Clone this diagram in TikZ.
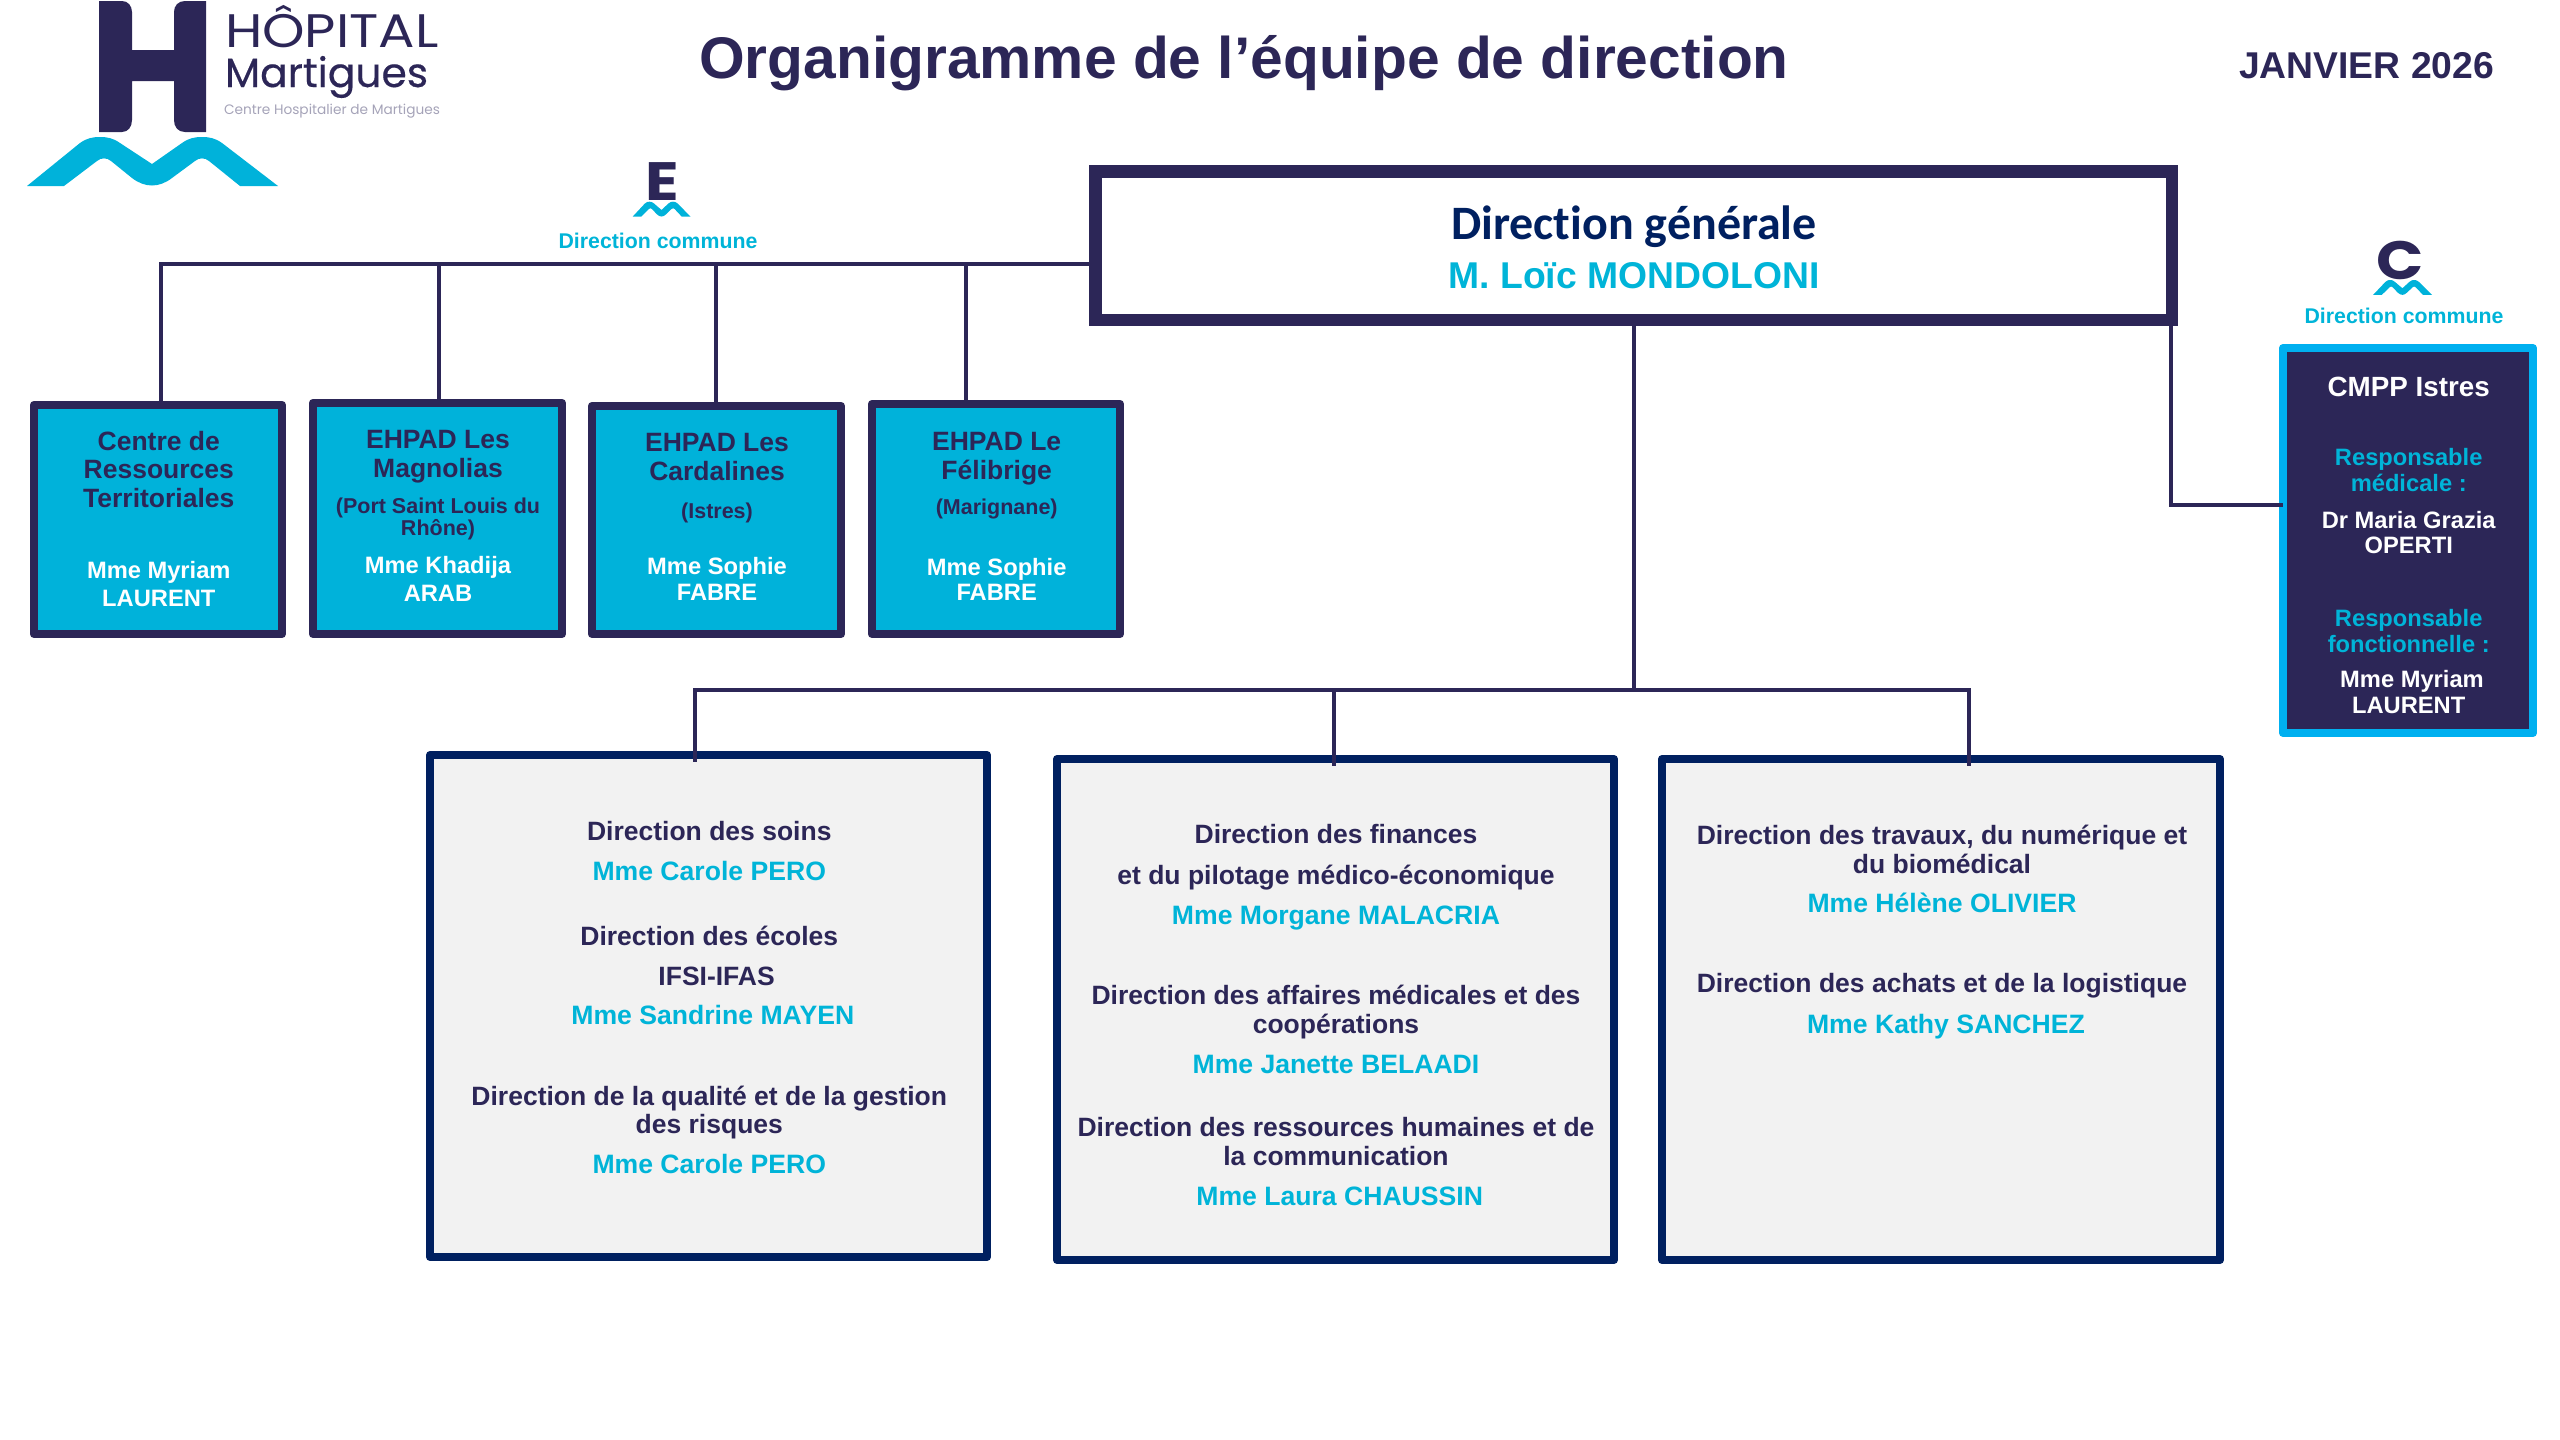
\documentclass[tikz,border=0pt]{standalone}
\usepackage{fontspec}
\setmainfont{Liberation Sans}
\newfontfamily\popfont{Poppins}
\newfontfamily\popwide[FakeStretch=1.15]{Poppins}
\newfontfamily\popmid[FakeBold=0.4]{Poppins}
\newfontfamily\carfont[Ligatures=NoCommon]{Carlito}
\definecolor{navy}{HTML}{2C2657}
\definecolor{deepblue}{HTML}{002060}
\definecolor{cyanfill}{HTML}{00B2DA}
\definecolor{cyantxt}{HTML}{00B4D8}
\definecolor{cyanedge}{HTML}{00B0F0}
\definecolor{panel}{HTML}{F2F2F2}
\definecolor{logogrey}{HTML}{A5A3B8}
\newcommand\fsz[1]{\fontsize{#1}{#1}\selectfont}
\tikzset{
  x=1pt,y=-1pt,
  basebox/.style={draw,rectangle,inner sep=0pt,outer sep=0pt,line join=round},
  dgbox/.style={basebox,draw=navy,fill=white,line join=miter},
  estab/.style={basebox,draw=navy,fill=cyanfill},
  cmppbox/.style={basebox,draw=cyanedge,fill=navy},
  dirbox/.style={basebox,draw=deepblue,fill=panel},
  conn/.style={draw=navy,line width=4pt,line cap=butt,line join=miter},
  tx/.style={anchor=base,inner sep=0pt,outer sep=0pt},
  title/.style={tx,text=navy,font=\bfseries\fsz{58.7}},
  date/.style={tx,text=navy,font=\bfseries\fsz{37.3}},
  common/.style={tx,text=cyantxt,font=\bfseries\fsz{21.3}},
  dgname/.style={tx,text=deepblue,font=\carfont\bfseries\fsz{48}},
  dgperson/.style={tx,text=cyantxt,font=\bfseries\fsz{37.3}},
  dirhead/.style={tx,text=navy,font=\bfseries\fsz{26.5}},
  dirperson/.style={tx,text=cyantxt,font=\bfseries\fsz{26.6}},
  esthead/.style={tx,text=navy,font=\bfseries\fsz{26.5}},
  estsub/.style={tx,text=navy,font=\bfseries\fsz{21.5}},
  estperson/.style={tx,text=white,font=\bfseries\fsz{23.7}},
  cmpphead/.style={tx,text=white,font=\bfseries\fsz{27.8}},
  cmpprole/.style={tx,text=cyantxt,font=\bfseries\fsz{23.7}},
  cmppperson/.style={tx,text=white,font=\bfseries\fsz{23.7}},
}
\newcommand\bx[7]{\node[#7,line width=#6pt,minimum width={(#4-#2-#6)*1pt},minimum height={(#5-#3-#6)*1pt}] (#1) at ({(#2+#4)/2},{(#3+#5)/2}) {};}
\newcommand\tl[5]{\node[#4] (#1) at (#2,#3) {#5};}
\newcommand\wave[4]{\begin{scope}[shift={(#1,#2)},xscale=#3,yscale=#4]
\fill[cyanfill] (0,49) -- (53,6) .. controls (60,1) and (66,0) .. (73,0) .. controls (80,0) and (86,1) .. (93,6) -- (125,27) -- (155,6) .. controls (162,1) and (168,0) .. (175,0) .. controls (182,0) and (188,1) .. (195,6) -- (251,49) -- (213,49) -- (182,24) .. controls (178,20.5) and (172,20.5) .. (168,24) -- (145,41) .. controls (132,51) and (118,51) .. (105,41) -- (84,24) .. controls (80,20.5) and (74,20.5) .. (70,24) -- (37,49) -- cycle;
\end{scope}}
\begin{document}
\begin{tikzpicture}
\useasboundingbox (0,0) rectangle (2560,1440);
% logo
\fill[navy] (99,1) -- (122,1) .. controls (128,1) and (132,6) .. (132,12) -- (132,50) -- (174,50) -- (174,12) .. controls (174,6) and (178,1) .. (185,1) -- (206,1) -- (206,132) -- (185,132) .. controls (178,132) and (174,127) .. (174,120) -- (174,81) -- (132,81) -- (132,120) .. controls (132,127) and (128,132) .. (122,132) -- (99,132) -- cycle;
\wave{27}{137}{1}{1}
\node[tx,anchor=base west,text=navy,font=\popwide\fsz{47}] (lhop) at (225,47.7) {HÔPITAL};
\node[tx,anchor=base west,text=navy,font=\popmid\fsz{40.8}] (lmar) at (225,87) {Martigues};
\node[tx,anchor=base west,text=logogrey,font=\popfont\fsz{13.7}] (lcen) at (224,114) {Centre Hospitalier de Martigues};
% title
\tl{ttl}{1244}{78}{title}{Organigramme de l’équipe de direction}
\tl{dte}{2366.5}{78.5}{date}{JANVIER 2026}
% common direction marks
\node[tx,text=navy,font=\popwide\bfseries\fsz{54}] (lE) at (662,200) {E};
\wave{632.6}{201.7}{.231}{.306}
\tl{commonE}{658}{248}{common}{Direction commune}
\node[tx,text=navy,font=\popwide\bfseries\fsz{54}] (lC) at (2400,279) {C};
\wave{2373}{280}{.235}{.306}
\tl{commonC}{2404}{323}{common}{Direction commune}
% boxes
\bx{dg}{1089}{165}{2178}{326}{12.5}{dgbox}
\bx{b1}{30}{401}{286}{638}{7.6}{estab}
\bx{b2}{309}{399}{566}{638}{7.6}{estab}
\bx{b3}{588}{402}{845}{638}{7.6}{estab}
\bx{b4}{868}{400}{1124}{638}{7.6}{estab}
\bx{cm}{2279}{344}{2537}{737}{8}{cmppbox}
\bx{dA}{426}{751}{991}{1261}{7.8}{dirbox}
\bx{dB}{1053}{755}{1618}{1264}{7.8}{dirbox}
\bx{dC}{1658}{755}{2224}{1264}{7.8}{dirbox}
% connector points
\coordinate (topbus) at (161,264);
\coordinate (bus2) at (439,264);
\coordinate (bus3) at (716,264);
\coordinate (bus4) at (965.5,264);
\coordinate (trunk) at (1634,690);
\coordinate (busA) at (694.5,690);
\coordinate (busB) at (1333.6,690);
\coordinate (busC) at (1968.7,690);
\coordinate (elbow) at (2171,505);
% connectors
\draw[conn] (dg.west |- topbus) -- (topbus) -- (b1.north -| topbus);
\draw[conn] (bus2) -- (b2.north -| bus2);
\draw[conn] (bus3) -- (b3.north -| bus3);
\draw[conn] (bus4) -- (b4.north -| bus4);
\draw[conn] (dg.south -| trunk) -- (trunk);
\draw[conn] (dA.north -| busA) -- ++(0,7) (dA.north -| busA) -- (busA) -- (busC) -- (dC.north -| busC) -- ++(0,7);
\draw[conn] (busB) -- (dB.north -| busB) -- ++(0,7);
\draw[conn] (dg.south -| elbow) -- (elbow) -- (cm.west |- elbow);
% direction generale
\tl{dg1}{1634}{239}{dgname}{Direction générale}
\tl{dg2}{1634}{288}{dgperson}{M. Loïc MONDOLONI}
% establishment 1
\tl{a1}{158.8}{450}{esthead}{Centre de}
\tl{a2}{158.8}{478.7}{esthead}{Ressources}
\tl{a3}{158.8}{507.5}{esthead}{Territoriales}
\tl{a4}{158.8}{578}{estperson}{Mme Myriam}
\tl{a5}{158.8}{606.5}{estperson}{LAURENT}
% establishment 2
\tl{c1}{438}{448}{esthead}{EHPAD Les}
\tl{c2}{438}{477}{esthead}{Magnolias}
\tl{c3}{438}{513.5}{estsub}{(Port Saint Louis du}
\tl{c4}{438}{535.7}{estsub}{Rhône)}
\tl{c5}{438}{573.5}{estperson}{Mme Khadija}
\tl{c6}{438}{601}{estperson}{ARAB}
% establishment 3
\tl{e1}{717}{451}{esthead}{EHPAD Les}
\tl{e2}{717}{480}{esthead}{Cardalines}
\tl{e3}{717}{518}{estsub}{(Istres)}
\tl{e4}{717}{574}{estperson}{Mme Sophie}
\tl{e5}{717}{600}{estperson}{FABRE}
% establishment 4
\tl{f1}{996.7}{450}{esthead}{EHPAD Le}
\tl{f2}{996.7}{479}{esthead}{Félibrige}
\tl{f3}{996.7}{514.5}{estsub}{(Marignane)}
\tl{f4}{996.7}{575}{estperson}{Mme Sophie}
\tl{f5}{996.7}{600}{estperson}{FABRE}
% CMPP
\tl{g1}{2408.7}{396}{cmpphead}{CMPP Istres}
\tl{g2}{2408.7}{465.5}{cmpprole}{Responsable}
\tl{g3}{2408.7}{491.7}{cmpprole}{médicale :}
\tl{g4}{2408.7}{528.3}{cmppperson}{Dr Maria Grazia}
\tl{g5}{2408.7}{553.8}{cmppperson}{OPERTI}
\tl{g6}{2408.7}{626}{cmpprole}{Responsable}
\tl{g7}{2408.7}{652.2}{cmpprole}{fonctionnelle :}
\tl{g8}{2412}{687.6}{cmppperson}{Mme Myriam}
\tl{g9}{2408.7}{713}{cmppperson}{LAURENT}
% direction A
\tl{h1}{709.3}{840.7}{dirhead}{Direction des soins}
\tl{h2}{709.3}{880}{dirperson}{Mme Carole PERO}
\tl{h3}{709.3}{945}{dirhead}{Direction des écoles}
\tl{h4}{716.6}{985}{dirhead}{IFSI-IFAS}
\tl{h5}{712.8}{1024}{dirperson}{Mme Sandrine MAYEN}
\tl{h6}{709.3}{1105.3}{dirhead}{Direction de la qualité et de la gestion}
\tl{h7}{709.3}{1133.5}{dirhead}{des risques}
\tl{h8}{709.3}{1173.5}{dirperson}{Mme Carole PERO}
% direction B
\tl{i1}{1336}{843.8}{dirhead}{Direction des finances}
\tl{i2}{1336}{884}{dirhead}{et du pilotage médico-économique}
\tl{i3}{1336}{924.8}{dirperson}{Mme Morgane MALACRIA}
\tl{i4}{1336}{1004}{dirhead}{Direction des affaires médicales et des}
\tl{i5}{1336}{1033}{dirhead}{coopérations}
\tl{i6}{1336}{1073}{dirperson}{Mme Janette BELAADI}
\tl{i7}{1336}{1136}{dirhead}{Direction des ressources humaines et de}
\tl{i8}{1336}{1165}{dirhead}{la communication}
\tl{i9}{1339.7}{1205}{dirperson}{Mme Laura CHAUSSIN}
% direction C
\tl{j1}{1942}{844.3}{dirhead}{Direction des travaux, du numérique et}
\tl{j2}{1942}{873}{dirhead}{du biomédical}
\tl{j3}{1942}{912.8}{dirperson}{Mme Hélène OLIVIER}
\tl{j4}{1942}{992.7}{dirhead}{Direction des achats et de la logistique}
\tl{j5}{1946}{1033.2}{dirperson}{Mme Kathy SANCHEZ}
\end{tikzpicture}
\end{document}
